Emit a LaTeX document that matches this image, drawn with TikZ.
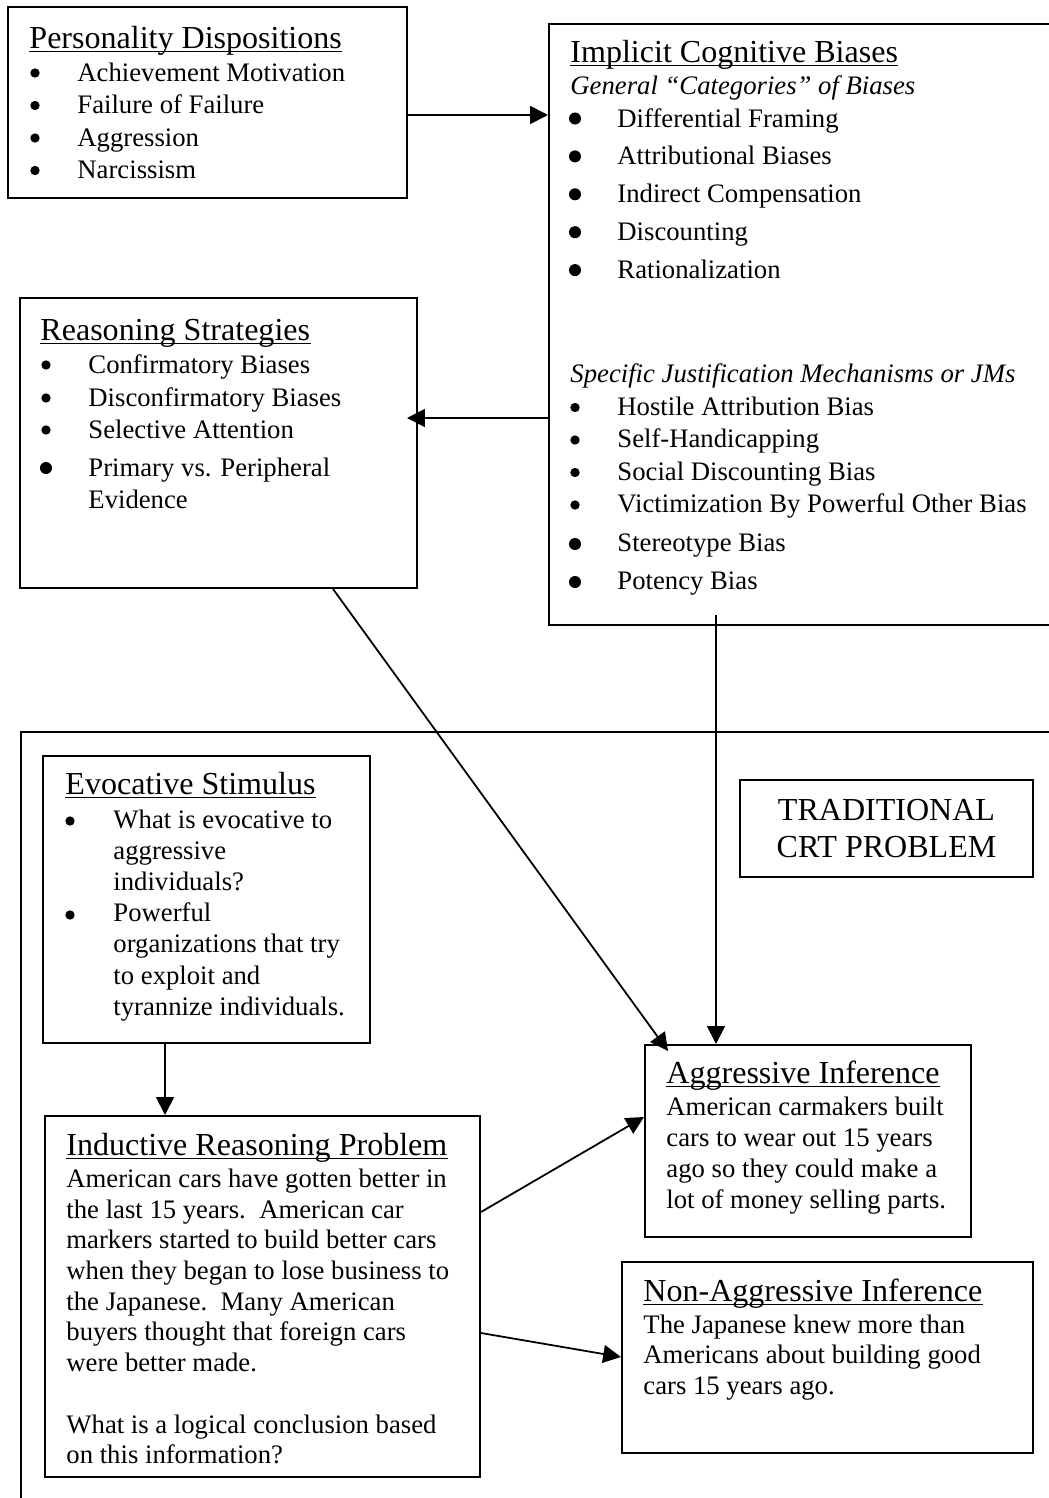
\documentclass[tikz,border=0pt]{standalone}
\usepackage{fontspec}
\setmainfont{Liberation Serif}
\usetikzlibrary{calc, positioning, fit}
\usetikzlibrary{arrows.meta}

\begin{document}
\begin{tikzpicture}[x=0.4494pt, y=-0.4494pt,
  box/.style={draw, line width=0.9pt, inner sep=0pt},
  head/.style={anchor=base west, inner sep=0pt, font=\fontsize{14.4}{17}\selectfont},
  txt/.style={anchor=base west, inner sep=0pt, font=\fontsize{12}{14}\selectfont},
  sub/.style={txt, font=\fontsize{12}{14}\selectfont\itshape},
  arr/.style={line width=0.8pt, -{Triangle[length=8pt, width=8pt]}},
]
\def\dotS{2.1pt}
\def\dotL{2.7pt}

\useasboundingbox (0,0) rectangle (1049,1498);
\clip (0,0) rectangle (1049,1498);

% boxes
\node[box, fit={(8,7) (407,198)}] (pers) {};
\node[box, fit={(549,24) (1070,625)}] (impl) {};
\node[box, fit={(20,298) (417,588)}] (reas) {};
\node[box, fit={(21,732) (1070,1520)}] (crt) {};
\node[box, fit={(43,756) (370,1043)}] (evoc) {};
\node[box, fit={(740,780) (1033,877)}] (trad) {};
\node[box, fit={(645,1045) (971,1237)}] (aggr) {};
\node[box, fit={(45,1116) (480,1477)}] (induc) {};
\node[box, fit={(622,1262) (1033,1453)}] (nagg) {};

% personality dispositions
\node[head] (persT) at (29,48) {Personality Dispositions};
\foreach \txt [count=\i] in {Achievement Motivation, Failure of Failure, Aggression, Narcissism} {
  \node[txt] (pers-\i) at (77, {81+32.5*(\i-1)}) {\txt};
  \fill (35, {73+32.5*(\i-1)}) circle (\dotS);
}

% implicit cognitive biases
\node[head] (implT) at (570,62) {Implicit Cognitive Biases};
\node[sub] (implG) at (570,94) {General “Categories” of Biases};
\foreach \txt [count=\i] in {Differential Framing, Attributional Biases, Indirect Compensation, Discounting, Rationalization} {
  \node[txt] (impl-\i) at (617, {127+37.9*(\i-1)}) {\txt};
  \fill (575, {118.5+37.9*(\i-1)}) circle (\dotL);
}
\node[sub] (implS) at (570,382) {Specific Justification Mechanisms or JMs};
\foreach \txt/\yy/\r [count=\i] in {Hostile Attribution Bias/415/\dotS, Self-Handicapping/447.5/\dotS,
    Social Discounting Bias/480/\dotS, Victimization By Powerful Other Bias/512.5/\dotS,
    Stereotype Bias/551.5/\dotL, Potency Bias/589.5/\dotL} {
  \node[txt] (jm-\i) at (617,\yy) {\txt};
  \fill (575, \yy-7.5) circle (\r);
}

% reasoning strategies
\node[head] (reasT) at (40,340) {Reasoning Strategies};
\foreach \txt/\yy/\r [count=\i] in {Confirmatory Biases/373/\dotS, Disconfirmatory Biases/406/\dotS,
    Selective Attention/438/\dotS, Primary vs. Peripheral/476/\dotL} {
  \node[txt] (reas-\i) at (88,\yy) {\txt};
  \fill (46, \yy-8) circle (\r);
}
\node[txt] (reas-5) at (88,508) {Evidence};

% evocative stimulus
\node[head] (evocT) at (65,794) {Evocative Stimulus};
\foreach \txt [count=\i] in {What is evocative to, aggressive, individuals?, Powerful,
    organizations that try, to exploit and, tyrannize individuals.}
  \node[txt] (evoc-\i) at (113, {828+31.2*(\i-1)}) {\txt};
\fill (70,821) circle (\dotS);
\fill (70,915) circle (\dotS);

% traditional crt problem
\node[font=\fontsize{14.4}{17}\selectfont, align=center] (tradT) at (trad.center) {TRADITIONAL\\CRT PROBLEM};

% aggressive inference
\node[head] (aggrT) at (666,1083) {Aggressive Inference};
\foreach \txt [count=\i] in {American carmakers built, cars to wear out 15 years,
    ago so they could make a, lot of money selling parts.}
  \node[txt] (aggr-\i) at (666, {1115+31*(\i-1)}) {\txt};

% inductive reasoning problem
\node[head] (inducT) at (66,1155) {Inductive Reasoning Problem};
\foreach \txt [count=\i] in {American cars have gotten better in, the last 15 years.\ \ American car,
    markers started to build better cars, when they began to lose business to,
    the Japanese.\ \ Many American, buyers thought that foreign cars, were better made.}
  \node[txt] (induc-\i) at (66, {1187.3+30.7*(\i-1)}) {\txt};
\node[txt] (induc-8) at (66,1433.3) {What is a logical conclusion based};
\node[txt] (induc-9) at (66,1463.8) {on this information?};

% non-aggressive inference
\node[head] (naggT) at (643,1301) {Non-Aggressive Inference};
\foreach \txt [count=\i] in {The Japanese knew more than, Americans about building good, cars 15 years ago.}
  \node[txt] (nagg-\i) at (643, {1333+30.5*(\i-1)}) {\txt};

% underlined headings
\foreach \t in {persT, implT, reasT, evocT, aggrT, inducT, naggT}
  \draw[line width=0.7pt] ([yshift=-1.6pt]\t.base west) -- ([yshift=-1.6pt]\t.base east);

% connectors
\coordinate (persRow) at (0,115);
\coordinate (reasIn) at (407,418);
\coordinate (implOut) at (716,615);
\coordinate (reasOut) at (333,0);
\coordinate (aggrIn) at (668,1051);
\coordinate (evocOut) at (165,0);
\coordinate (inducHi) at (0,1212);
\coordinate (aggrRow) at (0,1117);
\coordinate (inducLo) at (0,1333);
\coordinate (naggRow) at (0,1357);

\draw[arr] (pers.east |- persRow) -- (impl.west |- persRow);
\draw[arr] (impl.west |- reasIn) -- (reasIn);
\draw[arr] (implOut) -- (aggr.north -| implOut);
\draw[arr] (reas.south -| reasOut) -- (aggrIn);
\draw[arr] (evoc.south -| evocOut) -- (induc.north -| evocOut);
\draw[arr] (induc.east |- inducHi) -- (aggr.west |- aggrRow);
\draw[arr] (induc.east |- inducLo) -- (nagg.west |- naggRow);
\end{tikzpicture}
\end{document}
